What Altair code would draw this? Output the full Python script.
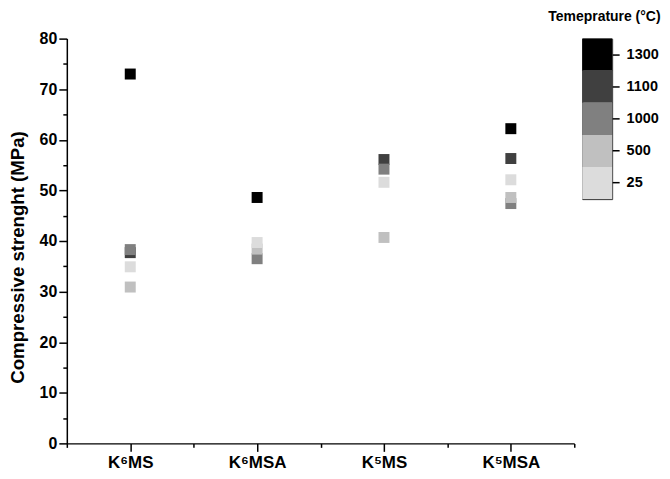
import altair as alt
import pandas as pd

# ---- data ----
categories = ["K\u2076MS", "K\u2076MSA", "K\u2075MS", "K\u2075MSA"]
temps = ["1300", "1100", "1000", "500", "25"]          # drawing order (last on top)
colors = ["#000000", "#404040", "#808080", "#c0c0c0", "#dcdcdc"]

strength_1300 = [73.0, 48.6, None, 62.2]
strength_1100 = [37.7, None, 56.1, 56.3]
strength_1000 = [38.3, 36.5, 54.2, 47.4]
strength_500 = [30.9, 38.4, 40.7, 48.6]
strength_25 = [34.9, 39.7, 51.6, 52.1]

series = {
    "1300": strength_1300,
    "1100": strength_1100,
    "1000": strength_1000,
    "500": strength_500,
    "25": strength_25,
}

rows = []
for t in temps:
    for i, cat in enumerate(categories):
        v = series[t][i]
        if v is not None:
            rows.append({"pos": i + 1, "Sample": cat, "Temperature": t, "Strength": v})
df = pd.DataFrame(rows)

legend_df = pd.DataFrame({"Temperature": temps})

FONT = "Liberation Sans"

label_js = "[" + ",".join("'" + c + "'" for c in categories) + "]"
x_values = [0.5 + 0.5 * k for k in range(2 * len(categories) + 1)]
y_values = list(range(0, 81, 5))

color_scale = alt.Scale(domain=temps, range=colors)

main = alt.Chart(df).mark_square(size=121, opacity=1).encode(
    x=alt.X(
        "pos:Q",
        scale=alt.Scale(domain=[0.5, len(categories) + 0.5], nice=False, zero=False),
        axis=alt.Axis(
            values=x_values,
            labelExpr="datum.value % 1 === 0 ? " + label_js + "[datum.value - 1] : ''",
            tickSize={"condition": {"test": "datum.value % 1 === 0", "value": 8}, "value": 4},
            title=None,
            grid=False,
            labelFontSize=17,
            labelBaseline="alphabetic",
            labelPadding=16,
        ),
    ),
    y=alt.Y(
        "Strength:Q",
        scale=alt.Scale(domain=[0, 80], nice=False),
        axis=alt.Axis(
            values=y_values,
            labelExpr="datum.value % 10 === 0 ? datum.label : ''",
            tickSize={"condition": {"test": "datum.value % 10 === 0", "value": 8}, "value": 4},
            title="Compressive strenght (MPa)",
            titleFontSize=18.7,
            titleX=-43,
            titleY=219,
            titleAngle=270,
            titleAlign="center",
            titleBaseline="alphabetic",
            grid=False,
            labelFontSize=16,
            labelPadding=2,
        ),
    ),
    color=alt.Color("Temperature:N", scale=color_scale, legend=None),
).properties(width=509, height=406)

bar = alt.Chart(legend_df).mark_rect().encode(
    y=alt.Y(
        "Temperature:N",
        sort=temps,
        scale=alt.Scale(paddingInner=0, paddingOuter=0),
        axis=alt.Axis(
            orient="right",
            title=None,
            domain=False,
            tickSize=7,
            labelFontSize=14.5,
            labelPadding=7,
            grid=False,
        ),
    ),
    color=alt.Color("Temperature:N", scale=color_scale, legend=None),
).properties(
    width=30,
    height=161,
    title=alt.TitleParams(
        "Temeprature (\u00b0C)",
        anchor="start",
        dx=-34,
        offset=15,
        fontSize=14,
        font=FONT,
        fontWeight="bold",
        color="black",
    ),
    view=alt.ViewBackground(stroke="#333333", strokeWidth=1),
)

chart = alt.hconcat(main, bar, spacing=8, bounds="flush").properties(
    padding={"left": 0, "top": 0, "right": 0, "bottom": 0},
).configure_view(stroke=None).configure_axis(
    labelFont=FONT,
    titleFont=FONT,
    labelFontWeight="bold",
    titleFontWeight="bold",
    labelColor="black",
    titleColor="black",
    domainColor="black",
    tickColor="black",
    domainWidth=1.5,
    tickWidth=1.5,
)

chart.save("out.html", embed_options={"renderer": "svg", "actions": False})
